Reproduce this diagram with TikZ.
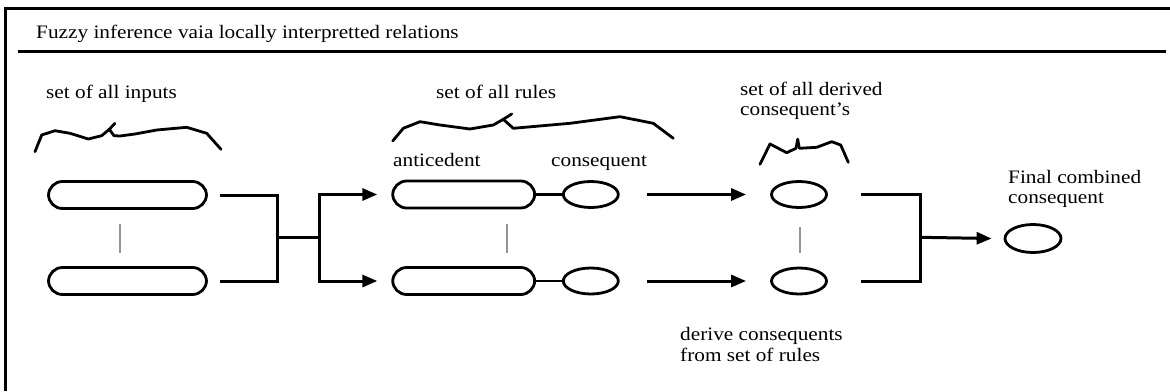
\documentclass[tikz,border=0pt]{standalone}
\usepackage{fontspec}
\setmainfont[FakeStretch=1.12]{Liberation Serif}
\usetikzlibrary{arrows.meta,shapes.geometric}

\begin{document}
\begin{tikzpicture}[x=1pt,y=-1pt,
  pill/.style={draw,line width=2.8pt,rectangle,rounded corners=14pt,
    minimum width=#1,minimum height=27pt,inner sep=0pt},
  oval/.style={draw,line width=2.8pt,ellipse,minimum width=55pt,
    minimum height=26pt,inner sep=0pt},
  wire/.style={line width=3pt},
  link/.style={line width=2.4pt},
  feed/.style={wire,-{Triangle[length=15pt,width=12pt]}},
  sep/.style={line width=2.2pt,draw=black!42},
  brace/.style={line width=2.8pt,line join=round,line cap=round},
  lbl/.style={anchor=base west,inner sep=0pt,font=\fontsize{19}{20}\selectfont}
]
\useasboundingbox (0,0) rectangle (1170,391);

% frame and title
\draw[line width=3pt] (5.5,391) -- (5.5,8) -- (1170,8);
\node[lbl] (title) at (36,38) {Fuzzy inference vaia locally interpretted relations};
\draw[line width=3pt] (18,51) -- (1166,51);

% inputs
\node[pill=158pt] (in1) at (127.5,195) {};
\node[pill=158pt] (in2) at (127.5,281) {};
\draw[sep] (120,224) -- (120,253);
\node[lbl] (lin) at (46,98) {set of all inputs};
\draw[brace] (35,151.7) -- (41.7,135) -- (55,130.7) -- (70,133.3) -- (88.3,139)
  -- (101.7,135.7) -- (109.3,129.3) -- (115,123.3);
\draw[brace] (109.3,129.3) -- (114,135.7) -- (120,136) -- (135,134) -- (156.7,130)
  -- (186.7,127.3) -- (206.7,133.3) -- (221,149.3);

% rules
\node[pill=142pt] (r1a) at (463.7,194.5) {};
\node[oval] (r1c) at (590.8,194.5) {};
\node[pill=142pt] (r2a) at (463.7,281) {};
\node[oval] (r2c) at (590.8,281) {};
\draw[link] (r1a) -- (r1c);
\draw[link] (r2a) -- (r2c);
\draw[sep] (507,224) -- (507,253);
\node[lbl] (lrules) at (436,98) {set of all rules};
\node[lbl] (lant) at (393,166) {anticedent};
\node[lbl] (lcon) at (551,166) {consequent};
\draw[brace] (392.7,141) -- (403.3,128.3) -- (420,121.7) -- (440,125) -- (470,129)
  -- (493.3,125) -- (503.3,119.3) -- (511.7,114);
\draw[brace] (503.3,119.3) -- (513.3,128.3) -- (570,123.3) -- (620,116.7)
  -- (653.3,123.3) -- (673.3,138.3);

% inputs to rules
\coordinate (jL) at (277,237.3);
\coordinate (jR) at (319.3,237.3);
\draw[wire] ([xshift=12pt]in1.east) -| (jL) |- ([xshift=12pt]in2.east);
\draw[wire] (jL) -- (jR);
\draw[feed] (jR) |- ([xshift=-14pt]r1a.west);
\draw[feed] (jR) |- ([xshift=-14pt]r2a.west);

% derived consequents
\node[oval] (d1) at (799,194.5) {};
\node[oval] (d2) at (799,281) {};
\draw[sep] (800,227) -- (800,253);
\draw[feed] ([xshift=27pt]r1c.east) -- ([xshift=-24pt]d1.west);
\draw[feed] ([xshift=27pt]r2c.east) -- ([xshift=-24pt]d2.west);
\node[lbl] (lder1) at (740,95) {set of all derived};
\node[lbl] (lder2) at (740,115) {consequent’s};
\draw[brace] (760,164.3) -- (770,144) -- (786.7,152.7) -- (796,148.3) -- (797.7,139.3);
\draw[brace] (797.7,139.3) -- (799.3,148.3) -- (816.7,147.3) -- (831.7,141.7)
  -- (840.7,145) -- (848.3,162.3);
\node[lbl] (lfrom1) at (680,340) {derive consequents};
\node[lbl] (lfrom2) at (680,361) {from set of rules};

% combination
\node[oval,minimum width=56pt,minimum height=28pt] (fin) at (1033,238.5) {};
\coordinate (kL) at (920,237.3);
\draw[wire] ([xshift=33pt]d1.east) -| (kL) |- ([xshift=33pt]d2.east);
\draw[feed] (kL) -- ([xshift=-12pt]fin.west);
\node[lbl] (lfin1) at (1008,183) {Final combined};
\node[lbl] (lfin2) at (1008,203) {consequent};
\end{tikzpicture}
\end{document}
